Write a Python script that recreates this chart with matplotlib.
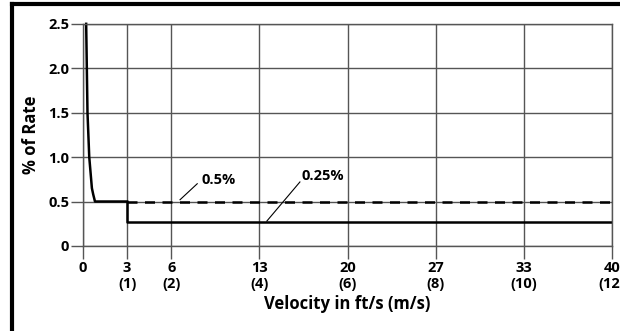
import matplotlib.pyplot as plt
from matplotlib.lines import Line2D

# --- datos ---
# posiciones en m/s, etiquetas en ft/s (m/s)
tick_pos = [0, 1, 2, 4, 6, 8, 10, 12]
tick_labels = ["0", "3\n(1)", "6\n(2)", "13\n(4)", "20\n(6)", "27\n(8)", "33\n(10)", "40\n(12)"]
y_ticks = [0, 0.5, 1.0, 1.5, 2.0, 2.5]
y_labels = ["0", "0.5", "1.0", "1.5", "2.0", "2.5"]

# curva inicial + tramo a 0.5%
curva_x = [0.07, 0.10, 0.14, 0.20, 0.23, 0.27, 1.0]
curva_y = [2.5, 1.5, 1.0, 0.65, 0.58, 0.5, 0.5]
# tramo a 0.25%
baja_x = [1.0, 1.0, 12]
baja_y = [0.5, 0.27, 0.27]
# linea discontinua a 0.5%
dash_x = [1.0, 12]
dash_y = [0.5, 0.5]

plt.rcParams['font.family'] = ['Open Sans', 'DejaVu Sans']
plt.rcParams['font.weight'] = 'bold'

fig = plt.figure(figsize=(6.2, 3.31), dpi=100)
ax = fig.add_axes([0.134, 0.257, 0.853, 0.671])

gris = '#555555'
ax.set_xlim(0, 12)
ax.set_ylim(0, 2.5)
ax.set_xticks(tick_pos)
ax.set_xticklabels(tick_labels, fontsize=10.5, fontweight='bold', linespacing=1.15)
ax.set_yticks(y_ticks)
ax.set_yticklabels(y_labels, fontsize=10.5, fontweight='bold')
ax.tick_params(axis='both', length=9, width=1, color=gris, pad=1)
ax.tick_params(axis='x', pad=2)
ax.grid(True, color=gris, linewidth=1)
for s in ax.spines.values():
    s.set_color(gris)
    s.set_linewidth(1)

ax.plot(curva_x, curva_y, color='black', linewidth=1.8, clip_on=False)
ax.plot(baja_x, baja_y, color='black', linewidth=1.8)
ax.plot(dash_x, dash_y, color='black', linewidth=1.8, linestyle=(0, (4, 3)))

# anotaciones
ax.plot([2.2, 2.59], [0.52, 0.70], color='black', linewidth=0.8)
ax.text(2.68, 0.74, "0.5%", fontsize=10.5, fontweight='bold', va='center', ha='left')
ax.plot([4.17, 4.92], [0.28, 0.72], color='black', linewidth=0.8)
ax.text(4.95, 0.79, "0.25%", fontsize=10.5, fontweight='bold', va='center', ha='left')

ax.set_ylabel("% of Rate", fontsize=12, fontweight='bold', labelpad=6)
ax.set_xlabel("Velocity in ft/s (m/s)", fontsize=12, fontweight='bold', labelpad=3)

# marco negro
fig.add_artist(Line2D([12/620, 1], [1 - 4/331, 1 - 4/331], color='black', linewidth=3))
fig.add_artist(Line2D([12/620, 12/620], [0, 1 - 4/331], color='black', linewidth=3))

fig.savefig("out.png", dpi=100)
